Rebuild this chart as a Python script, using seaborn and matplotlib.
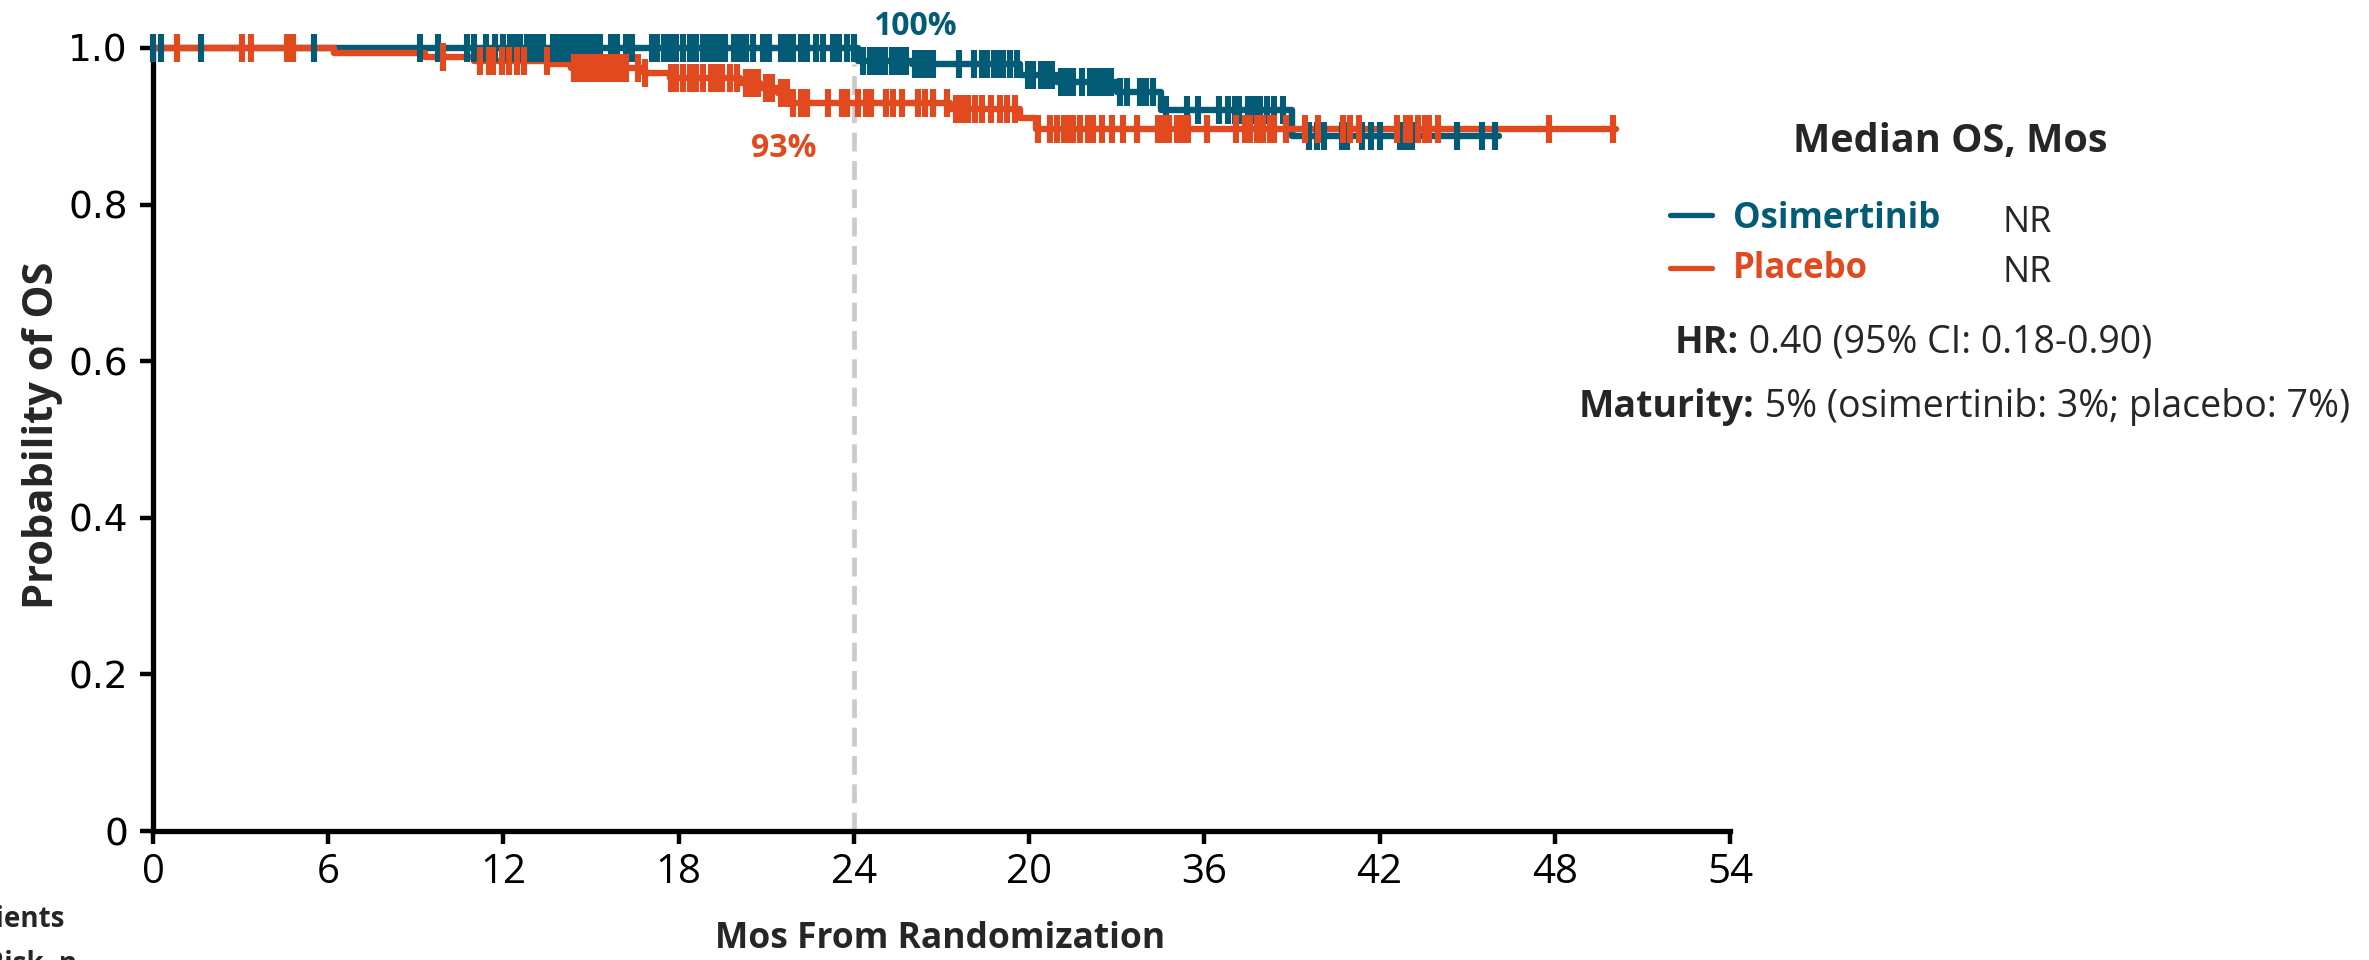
import numpy as np
import pandas as pd
import matplotlib
matplotlib.use("Agg")
import matplotlib.pyplot as plt
from matplotlib.lines import Line2D
import seaborn as sns

# ------------------------------------------------------------------ data
arms = ["Osimertinib", "Placebo"]
arm_colors = ["#045B76", "#E2491E"]

# Kaplan-Meier step curves (month of step, survival after step)
osi_times = [0, 24.15, 26.0, 29.7, 30.95, 33.0, 34.5, 39.0, 46.1]
osi_surv = [1.0, 0.984, 0.980, 0.965, 0.957, 0.944, 0.921, 0.887, 0.887]

pla_times = [0, 6.2, 9.3, 11.0, 13.6, 14.3, 16.8, 17.7, 20.1, 20.8, 21.4,
             21.85, 27.3, 29.7, 30.25, 50.1]
pla_surv = [1.0, 0.994, 0.989, 0.984, 0.979, 0.974, 0.968, 0.962, 0.955,
            0.949, 0.942, 0.930, 0.922, 0.910, 0.896, 0.896]

# censoring marks (months)
osi_censor = [0.0, 0.26, 1.64, 5.5, 9.14, 9.76, 10.75, 11.0, 11.4, 11.7,
              12.0, 12.23, 12.4, 12.57, 12.8, 13.0, 13.2, 13.37, 13.7, 13.88,
              14.05, 14.2, 14.4, 14.56, 14.7, 14.9, 15.1, 15.3, 15.7, 15.9,
              16.2, 16.4, 17.1, 17.25, 17.5, 17.7, 17.9, 18.15, 18.4, 18.6,
              18.85, 19.0, 19.2, 19.4, 19.6, 19.9, 20.1, 20.3, 20.55, 20.9,
              21.1, 21.5, 21.7, 21.9, 22.2, 22.4, 22.7, 22.95, 23.3, 23.5,
              23.75, 24.0, 24.3, 24.55, 24.7, 24.9, 25.07, 25.3, 25.5, 25.65,
              25.8, 26.1, 26.3, 26.5, 26.7, 27.6, 28.1, 28.4, 28.55, 28.8,
              28.95, 29.1, 29.35, 29.6, 29.97, 30.15, 30.4, 30.6, 30.8, 31.1,
              31.3, 31.5, 31.8, 32.1, 32.25, 32.4, 32.6, 32.8, 33.1, 33.35,
              33.8, 34.0, 34.25, 34.7, 35.4, 35.8, 36.5, 36.8, 37.05, 37.2,
              37.5, 37.7, 37.9, 38.15, 38.4, 38.7, 39.6, 39.85, 40.1, 40.7,
              40.9, 41.4, 41.7, 42.0, 42.7, 42.9, 43.1, 44.65, 45.5, 45.95]

pla_censor = [0.82, 3.05, 3.36, 4.6, 4.8, 9.93, 11.2, 11.5, 11.65, 11.95,
              12.2, 12.45, 12.7, 13.5, 14.4, 14.6, 14.8, 15.0, 15.2, 15.4,
              15.6, 15.8, 16.0, 16.2, 16.6, 16.85, 17.75, 17.9, 18.15, 18.4,
              18.6, 18.85, 19.1, 19.3, 19.5, 19.75, 20.0, 20.3, 20.5, 20.7,
              21.0, 21.2, 21.5, 21.7, 21.9, 22.2, 22.4, 23.1, 23.6, 23.75,
              24.15, 24.4, 24.6, 25.1, 25.35, 25.65, 26.2, 26.45, 26.7, 27.2,
              27.5, 27.7, 27.9, 28.15, 28.4, 28.7, 29.0, 29.25, 29.5, 30.3,
              30.7, 30.95, 31.2, 31.35, 31.5, 31.75, 32.0, 32.2, 32.5, 32.85,
              33.2, 33.7, 34.4, 34.6, 34.8, 35.05, 35.25, 35.45, 36.1, 37.1,
              37.4, 37.57, 37.8, 38.0, 38.25, 38.4, 38.8, 39.45, 39.9, 40.75,
              41.0, 41.3, 42.6, 42.9, 43.05, 43.3, 43.55, 43.7, 44.0, 47.8,
              50.0]

landmark_month = 24
landmark_labels = ["100%", "93%"]

x_tick_values = [0, 6, 12, 18, 24, 30, 36, 42, 48, 54]
x_tick_labels = ["0", "6", "12", "18", "24", "20", "36", "42", "48", "54"]
y_tick_values = [0, 0.2, 0.4, 0.6, 0.8, 1.0]
y_tick_labels = ["0", "0.2", "0.4", "0.6", "0.8", "1.0"]

median_os = ["NR", "NR"]
hr_bold, hr_text = "HR:", " 0.40 (95% CI: 0.18-0.90)"
mat_bold, mat_text = "Maturity:", " 5% (osimertinib: 3%; placebo: 7%)"

# ------------------------------------------------------------------ style
sns.set_style("ticks")
plt.rcParams["font.family"] = ["Open Sans", "DejaVu Sans"]

W, H = 2369, 960
fig = plt.figure(figsize=(W / 100, H / 100), dpi=100)
AX_L, AX_R, AX_T, AX_B = 153, 1730, 48, 831
ax = fig.add_axes([AX_L / W, 1 - AX_B / H, (AX_R - AX_L) / W, (AX_B - AX_T) / H])


def fx(x):
    return x / W


def fy(y):
    return 1 - y / H


def level_at(times, surv, t):
    idx = np.searchsorted(np.asarray(times), np.asarray(t), side="right") - 1
    return np.asarray(surv)[idx]


# ------------------------------------------------------------------ curves
series = [(osi_times, osi_surv, osi_censor), (pla_times, pla_surv, pla_censor)]
for arm, color, (times, surv, cens) in zip(arms, arm_colors, series):
    curve = pd.DataFrame({"Months": times, "Survival": surv, "Arm": arm})
    sns.lineplot(data=curve, x="Months", y="Survival", color=color,
                 drawstyle="steps-post", linewidth=4.6, estimator=None,
                 sort=False, ax=ax, legend=False, zorder=3, clip_on=False)
    marks = pd.DataFrame({"Months": cens,
                          "Survival": level_at(times, surv, cens)})
    sns.scatterplot(data=marks, x="Months", y="Survival", marker="|",
                    s=400, linewidth=4.4, color=color, ax=ax, legend=False,
                    zorder=4, clip_on=False)

# landmark line
ax.axvline(landmark_month, ymin=0, ymax=0.98, color="#CBCBCB", lw=3.4,
           dashes=(4, 2), zorder=2)
ax.text(26.1, 1.0166, landmark_labels[0], color=arm_colors[0], fontsize=23,
        weight="bold", ha="center", va="baseline")
ax.text(21.6, 0.861, landmark_labels[1], color=arm_colors[1], fontsize=23,
        weight="bold", ha="center", va="baseline")

# ------------------------------------------------------------------ axes
ax.set_xlim(0, 54)
ax.set_ylim(0, 1.0)
ax.set_xticks(x_tick_values)
ax.set_xticklabels(x_tick_labels, fontsize=29)
ax.set_yticks(y_tick_values)
ax.set_yticklabels(y_tick_labels, fontsize=27, family="DejaVu Sans")
ax.tick_params(axis="both", direction="out", length=9.5, width=3.2,
               color="black", labelcolor="black")
ax.tick_params(axis="x", pad=6)
ax.tick_params(axis="y", pad=8.5)
sns.despine(ax=ax)
for side in ["left", "bottom"]:
    ax.spines[side].set_linewidth(3.8)
    ax.spines[side].set_color("black")

ax.set_xlabel("Mos From Randomization", fontsize=25.5, weight="bold")
ax.xaxis.label.set_va("baseline")
ax.xaxis.set_label_coords((940 - AX_L) / (AX_R - AX_L),
                          (AX_B - 948) / (AX_B - AX_T))
ax.set_ylabel("Probability of OS", fontsize=30, weight="bold")
ax.yaxis.label.set_va("baseline")
ax.yaxis.set_label_coords((53 - AX_L) / (AX_R - AX_L),
                          (AX_B - 435) / (AX_B - AX_T))

# ------------------------------------------------------------------ side panel
fig.text(fx(1793), fy(152), "Median OS, Mos", fontsize=28.5, weight="bold",
         ha="left", va="baseline")
for i, (arm, color) in enumerate(zip(arms, arm_colors)):
    ly = 215 + i * 53
    fig.add_artist(Line2D([fx(1670), fx(1712)], [fy(ly), fy(ly)],
                          transform=fig.transFigure, color=color, lw=3.8))
    fig.text(fx(1733), fy(228 + i * 50), arm, fontsize=25, weight="bold",
             color=color, ha="left", va="baseline")
    fig.text(fx(2003), fy(232 + i * 50), median_os[i], fontsize=26,
             ha="left", va="baseline")

t_hr = fig.text(fx(1675), fy(353), hr_bold, fontsize=27, weight="bold",
                ha="left", va="baseline")
ax.annotate(hr_text, xy=(1, 0), xycoords=t_hr, fontsize=27, ha="left",
            va="bottom", annotation_clip=False)
t_mat = fig.text(fx(1579), fy(417), mat_bold, fontsize=27, weight="bold",
                 ha="left", va="baseline")
ax.annotate(mat_text, xy=(1, 0), xycoords=t_mat, fontsize=27, ha="left",
            va="bottom", annotation_clip=False)

# at-risk table header (cut off at the figure edge, as in the source)
fig.text(fx(64), fy(927), "No. of Patients", fontsize=20, weight="bold",
         ha="right", va="baseline")
fig.text(fx(77), fy(972), "at Risk, n", fontsize=20, weight="bold",
         ha="right", va="baseline")

fig.savefig("out.png", dpi=100, facecolor="white")
